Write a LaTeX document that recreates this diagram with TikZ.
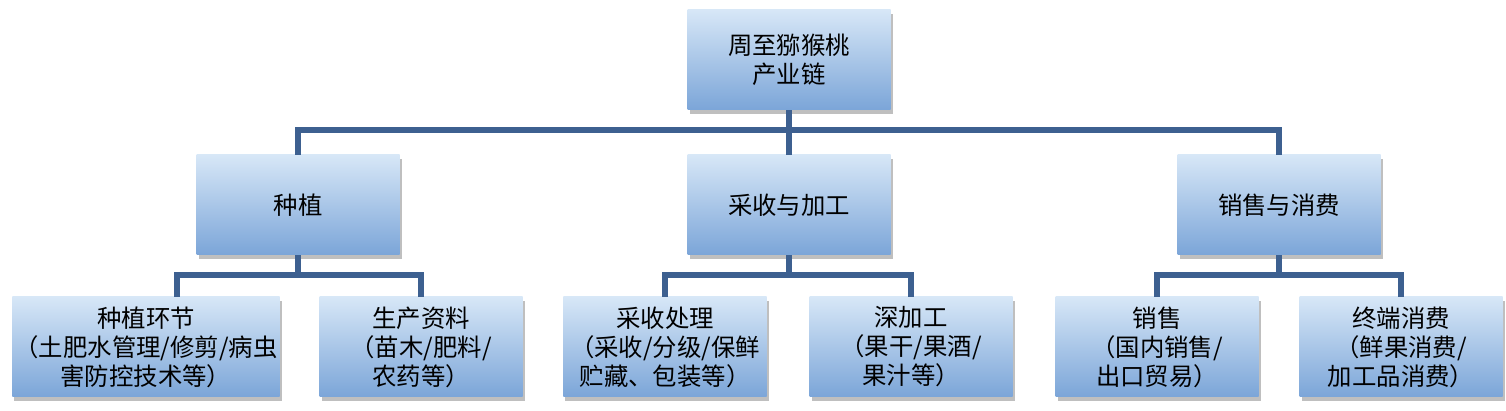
\documentclass[tikz,border=0pt]{standalone}
\usepackage{fontspec}
\setmainfont{Noto Sans CJK SC}
\usepackage{xcolor}
\usetikzlibrary{shadows}
\definecolor{boxtop}{HTML}{D7E7F7}
\definecolor{boxbottom}{HTML}{7BA5D8}
\definecolor{chainblue}{HTML}{3D6090}
\tikzset{
  chainbox/.style={rectangle,top color=boxtop,bottom color=boxbottom,
    draw=none,minimum width=101.5pt,minimum height=50pt,align=center,
    font=\fontsize{12.2pt}{14.5pt}\selectfont,
    drop shadow={opacity=0.5,shadow xshift=1pt,shadow yshift=-1.8pt}},
  wide box/.style={chainbox,minimum width=132pt,inner xsep=1pt},
  link/.style={draw=chainblue,line width=3pt}
}

\begin{document}
\begin{tikzpicture}[x=0.5pt,y=-0.5pt]
  \useasboundingbox (0,0) rectangle (1506,411);
  % top level
  \node[chainbox] (chain) at (789,60) {周至猕猴桃\\产业链};
  % second level
  \node[chainbox] (plant) at (298,205) {种植};
  \node[chainbox] (harvest) at (789,205) {采收与加工};
  \node[chainbox] (sale) at (1279,205) {销售与消费};
  % third level
  \node[wide box] (plantstep) at (146,347) {种植环节\\（土肥水管理/修剪/病虫\\害防控技术等）};
  \node[chainbox] (material) at (421,347) {生产资料\\（苗木/肥料/\\农药等）};
  \node[chainbox] (pick) at (665,347) {采收处理\\（采收/分级/保鲜\\贮藏、包装等）};
  \node[chainbox] (deep) at (911,347) {深加工\\（果干/果酒/\\果汁等）};
  \node[chainbox] (market) at (1157,347) {销售\\（国内销售/\\出口贸易）};
  \node[chainbox] (consume) at (1401,347) {终端消费\\（鲜果消费/\\加工品消费）};
  % connectors
  \draw[link] (chain.south) -- ++(0,20) coordinate (j0);
  \draw[link] (plant.north) |- (j0) -| (sale.north);
  \draw[link] (j0) -- (harvest.north);
  \draw[link] (plant.south) -- ++(0,20) coordinate (j1);
  \draw[link] ([xshift=15.5pt]plantstep.north) |- (j1) -| (material.north);
  \draw[link] (harvest.south) -- ++(0,20) coordinate (j2);
  \draw[link] (pick.north) |- (j2) -| (deep.north);
  \draw[link] (sale.south) -- ++(0,20) coordinate (j3);
  \draw[link] (market.north) |- (j3) -| (consume.north);
\end{tikzpicture}
\end{document}
